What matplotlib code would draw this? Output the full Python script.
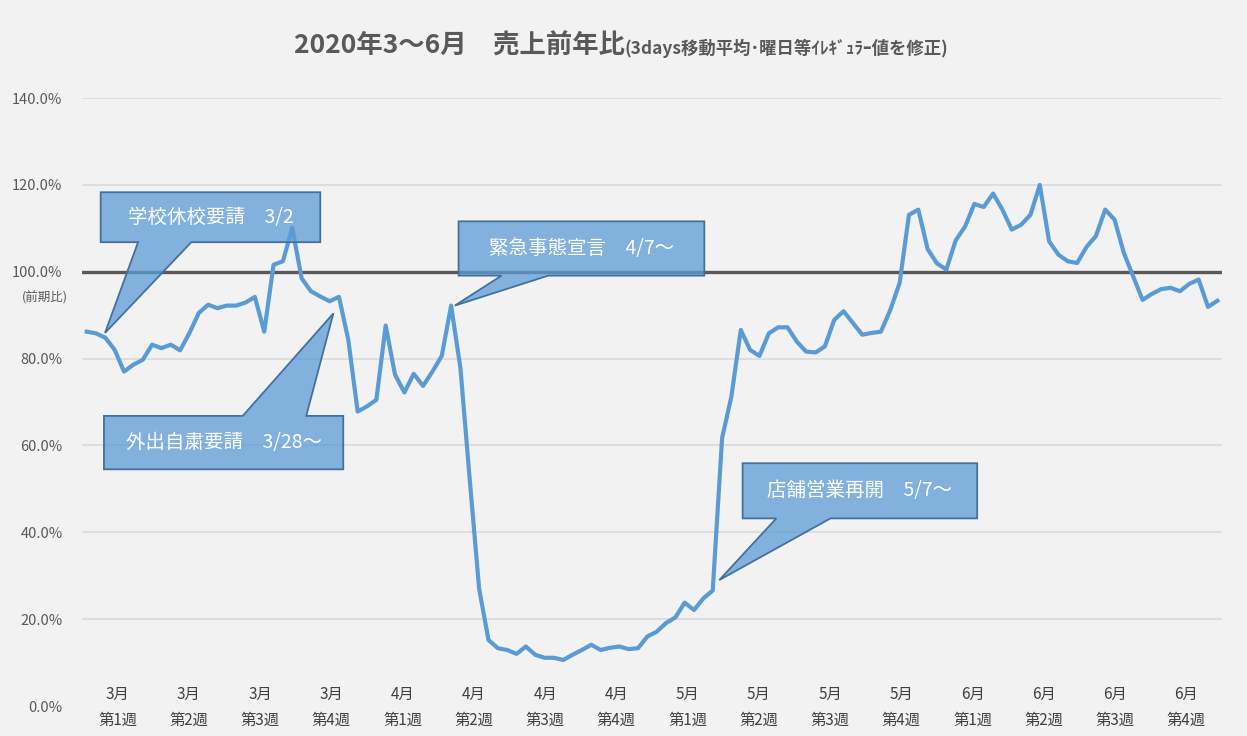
import matplotlib
matplotlib.use("Agg")
import matplotlib.pyplot as plt
from matplotlib.patches import Polygon
import numpy as np

plt.rcParams['font.family'] = ['Noto Sans CJK JP', 'DejaVu Sans']

# daily ratio vs previous year (%), 3/1 - 6/30
ratio = [86.2, 85.8, 84.8, 82.0, 77.0, 78.6, 79.7, 83.2, 82.4, 83.2,
         81.9, 85.9, 90.5, 92.4, 91.6, 92.2, 92.2, 92.9, 94.2, 86.2,
         101.6, 102.4, 110.1, 98.5, 95.5, 94.3, 93.2, 94.2, 84.3, 67.8,
         69.0, 70.5, 87.6, 76.3, 72.2, 76.5, 73.7, 77.0, 80.6, 92.2,
         77.8, 52.0, 27.0, 15.2, 13.3, 12.9, 12.0, 13.7, 11.8, 11.1,
         11.1, 10.6, 11.8, 12.9, 14.1, 12.9, 13.4, 13.7, 13.1, 13.3,
         16.0, 17.1, 19.1, 20.4, 23.8, 22.1, 24.8, 26.6, 61.7, 71.3,
         86.6, 82.0, 80.6, 85.8, 87.2, 87.2, 83.9, 81.6, 81.4, 82.8,
         88.9, 90.9, 88.2, 85.5, 85.9, 86.2, 91.2, 97.4, 113.1, 114.3,
         105.2, 101.9, 100.5, 107.2, 110.4, 115.6, 114.9, 118.0, 114.3, 109.7,
         110.8, 113.1, 120.0, 107.0, 103.9, 102.4, 102.0, 105.7, 108.2, 114.3,
         112.0, 104.3, 98.9, 93.5, 94.9, 96.0, 96.3, 95.5, 97.2, 98.2,
         91.9, 93.3]

months = ["3月"] * 4 + ["4月"] * 4 + ["5月"] * 4 + ["6月"] * 4
weeks = ["第1週", "第2週", "第3週", "第4週"] * 4
y_ticks = [0, 20, 40, 60, 80, 100, 120, 140]

n = len(ratio)
x = np.arange(n) + 0.5

fig = plt.figure(figsize=(12.47, 7.36), dpi=100, facecolor='#F2F2F2')
ax = fig.add_axes([82 / 1247, 30 / 736, 1140 / 1247, 608 / 736])
ax.set_facecolor('#F2F2F2')
ax.set_xlim(0, n)
ax.set_ylim(0, 140)

for t in y_ticks[1:]:
    ax.axhline(t, color='#D9D9D9', lw=1.2, zorder=1)
ax.axhline(100, color='#595959', lw=2.4, zorder=2)

ax.plot(x, ratio, color='#5B9BD5', lw=3.0, zorder=3)

for s in ax.spines.values():
    s.set_visible(False)
ax.set_xticks([])
ax.set_yticks(y_ticks)
ax.set_yticklabels([f"{t:.1f}%" for t in y_ticks], color='#595959', fontsize=10.5)
ax.tick_params(axis='y', length=0, pad=14)

# week labels
step = n / len(months)
for k, (m, w) in enumerate(zip(months, weeks)):
    cx = (k + 0.5) * step
    ax.text(cx, 2.6, m, ha='center', va='center', fontsize=11, color='#404040', clip_on=False)
    ax.text(cx, -3.4, w, ha='center', va='center', fontsize=11, color='#404040', clip_on=False)

fig.text(45 / 1247, 1 - 298 / 736, "(前期比)", ha='center', va='center', fontsize=9, color='#595959')

# title
fig.text(625 / 1247, 1 - 54 / 736, "2020年3～6月　売上前年比", ha='right', va='baseline',
         fontsize=19, fontweight='bold', color='#595959')
fig.text(625 / 1247, 1 - 54 / 736, "(3days移動平均･曜日等ｲﾚｷﾞｭﾗｰ値を修正)", ha='left', va='baseline',
         fontsize=12.5, fontweight='bold', color='#595959')


def callout(box, base, tip, side, label):
    x0, x1, y0, y1 = box
    b0, b1 = base
    if side == 'bottom':
        pts = [(x0, y1), (x1, y1), (x1, y0), (b1, y0), tip, (b0, y0), (x0, y0)]
    else:
        pts = [(x0, y0), (x1, y0), (x1, y1), (b1, y1), tip, (b0, y1), (x0, y1)]
    ax.add_patch(Polygon(pts, closed=True, facecolor=(0.357, 0.608, 0.835, 0.75),
                         edgecolor='#41719C', lw=1.3, zorder=4, clip_on=False))
    ax.text((x0 + x1) / 2, (y0 + y1) / 2, label, ha='center', va='center',
            fontsize=14, color='white', zorder=5)


callout((2.0, 25.5, 106.8, 118.3), (6.0, 11.7), (2.46, 85.9), 'bottom', "学校休校要請　3/2")
callout((40.3, 66.6, 99.1, 111.6), (44.9, 49.9), (39.9, 92.2), 'bottom', "緊急事態宣言　4/7～")
callout((2.35, 27.96, 54.5, 66.8), (17.2, 24.0), (26.9, 90.4), 'top', "外出自粛要請　3/28～")
callout((70.7, 95.8, 43.2, 55.9), (74.3, 80.1), (68.2, 29.0), 'bottom', "店舗営業再開　5/7～")

fig.savefig("out.png", dpi=100, facecolor=fig.get_facecolor())
